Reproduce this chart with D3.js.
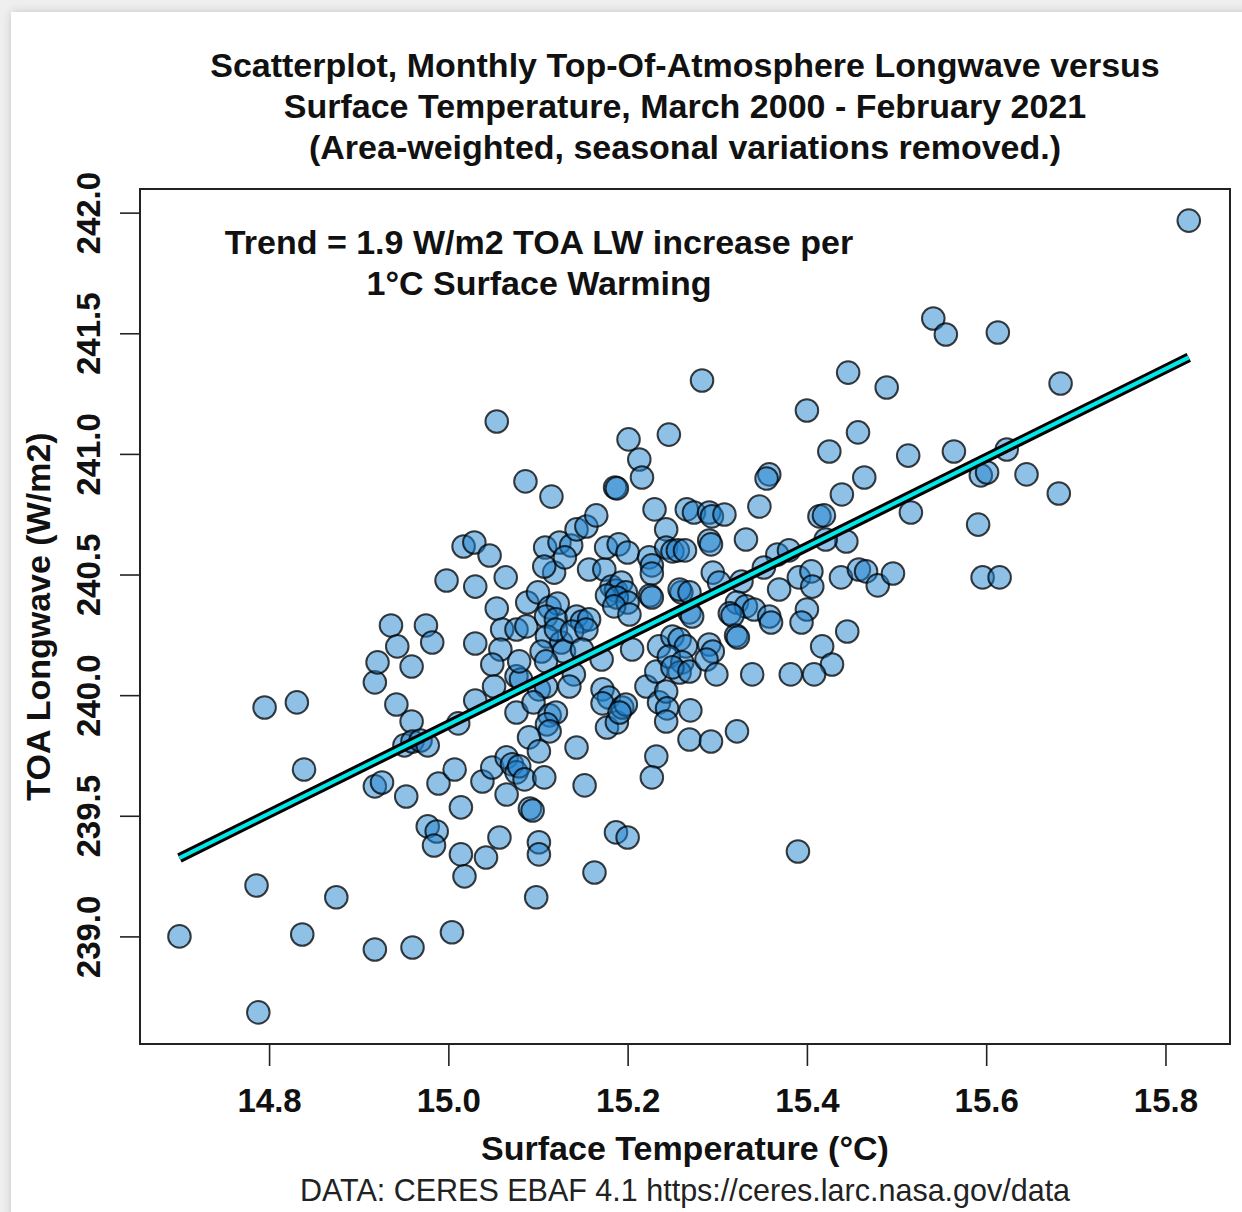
<!DOCTYPE html>
<html>
<head>
<meta charset="utf-8">
<script src="https://cdn.jsdelivr.net/npm/d3@7"></script>
<style>
  html, body { margin: 0; padding: 0; background: #efefef; }
  svg { display: block; }
</style>
</head>
<body>
<div id="chart"></div>
<script>
/* Scatterplot of monthly TOA longwave vs surface temperature (CERES EBAF 4.1),
   with the least-squares trend drawn as a black line with a cyan core. */

// ---- data ----
var temp = [
  14.700, 14.786, 14.788, 14.795, 14.831, 14.837, 14.839, 14.875, 14.918, 14.918,
  14.921, 14.936, 14.943, 14.942, 14.959, 14.959, 14.951, 14.960, 14.969, 14.977,
  14.918, 14.926, 14.953, 14.960, 14.975, 14.982, 14.977, 14.987, 14.984, 14.989,
  14.998, 15.004, 15.007, 15.011, 15.014, 15.014, 15.018, 15.017, 15.029, 15.030,
  15.030, 15.030, 15.046, 15.054, 15.054, 15.064, 15.060, 15.058, 15.049, 15.051,
  15.038, 15.049, 15.042, 15.057, 15.065, 15.065, 15.071, 15.076, 15.079, 15.076,
  15.076, 15.081, 15.079, 15.076, 15.086, 15.088, 15.087, 15.100, 15.108, 15.115,
  15.113, 15.122, 15.109, 15.120, 15.118, 15.107, 15.110, 15.126, 15.129, 15.104,
  15.109, 15.120, 15.101, 15.109, 15.095, 15.113, 15.120, 15.110, 15.113, 15.090,
  15.101, 15.085, 15.107, 15.091, 15.094, 15.101, 15.101, 15.098, 15.124, 15.137,
  15.130, 15.143, 15.154, 15.165, 15.157, 15.174, 15.143, 15.149, 15.157, 15.138,
  15.154, 15.149, 15.140, 15.135, 15.171, 15.172, 15.179, 15.172, 15.177, 15.188,
  15.194, 15.143, 15.152, 15.163, 15.187, 15.200, 15.176, 15.190, 15.200, 15.186,
  15.188, 15.201, 15.213, 15.216, 15.230, 15.243, 15.224, 15.227, 15.227, 15.182,
  15.187, 15.193, 15.198, 15.177, 15.188, 15.200, 15.185, 15.225, 15.227, 15.202,
  15.205, 15.198, 15.191, 15.221, 15.232, 15.232, 15.227, 15.235, 15.235, 15.246,
  15.283, 15.266, 15.274, 15.291, 15.294, 15.308, 15.243, 15.250, 15.256, 15.264,
  15.260, 15.269, 15.272, 15.250, 15.258, 15.265, 15.246, 15.261, 15.258, 15.250,
  15.269, 15.291, 15.295, 15.288, 15.299, 15.243, 15.244, 15.243, 15.270, 15.269,
  15.293, 15.322, 15.291, 15.293, 15.295, 15.302, 15.258, 15.269, 15.332, 15.347,
  15.358, 15.355, 15.367, 15.380, 15.352, 15.327, 15.369, 15.322, 15.332, 15.341,
  15.314, 15.317, 15.358, 15.360, 15.321, 15.323, 15.339, 15.382, 15.390, 15.400,
  15.446, 15.425, 15.457, 15.464, 15.439, 15.414, 15.419, 15.444, 15.421, 15.391,
  15.405, 15.406, 15.438, 15.458, 15.466, 15.400, 15.394, 15.445, 15.417, 15.428,
  15.408, 15.479, 15.496, 15.489, 15.513, 15.516, 15.541, 15.555, 15.564, 15.613,
  15.623, 15.594, 15.601, 15.645, 15.681, 15.683, 15.591, 15.596, 15.615, 15.826
];
var longwave = [
  239.000, 239.211, 238.685, 239.949, 239.970, 239.008, 239.692, 239.162, 238.946, 240.053,
  240.136, 240.289, 240.202, 239.961, 240.119, 239.891, 239.792, 239.808, 239.812, 239.792,
  239.622, 239.638, 239.580, 238.954, 240.289, 240.218, 239.456, 239.435, 239.377, 239.634,
  240.475, 239.017, 239.692, 239.883, 239.535, 239.340, 239.249, 240.616, 240.633, 240.450,
  240.214, 239.978, 240.579, 241.134, 240.359, 240.488, 240.272, 240.189, 240.127, 240.036,
  239.642, 239.700, 239.327, 239.410, 239.588, 239.742, 239.713, 239.680, 239.705, 240.272,
  240.078, 240.065, 240.140, 239.928, 240.886, 240.384, 240.285, 240.426, 240.612, 240.823,
  240.363, 240.380, 240.326, 240.314, 240.508, 240.533, 240.243, 240.218, 240.181, 240.181,
  240.140, 240.272, 240.024, 240.036, 239.970, 239.916, 239.928, 239.879, 239.850, 239.825,
  239.767, 239.651, 239.659, 239.530, 239.522, 239.390, 239.340, 239.162, 240.633, 240.620,
  240.571, 240.687, 240.699, 240.745, 240.521, 240.521, 240.326, 240.305, 240.314, 240.264,
  240.272, 240.189, 240.086, 240.036, 240.148, 240.024, 239.990, 239.966, 239.866, 239.887,
  239.949, 239.783, 239.626, 239.265, 239.431, 239.410, 240.612, 240.625, 240.591, 240.861,
  240.857, 241.060, 240.977, 240.902, 240.770, 240.687, 240.571, 240.538, 240.504, 240.450,
  240.434, 240.467, 240.426, 240.413, 240.405, 240.384, 240.368, 240.413, 240.405, 240.334,
  240.189, 239.961, 239.928, 240.036, 240.098, 239.746, 239.659, 240.202, 239.970, 241.080,
  241.304, 240.770, 240.757, 240.757, 240.741, 240.749, 240.612, 240.596, 240.600, 240.600,
  240.426, 240.343, 240.326, 240.243, 240.231, 240.202, 240.160, 240.136, 240.094, 240.115,
  240.098, 240.210, 240.181, 240.148, 240.086, 240.015, 239.945, 239.891, 239.937, 239.816,
  239.808, 239.850, 240.641, 240.625, 240.508, 240.467, 240.438, 240.426, 240.645, 240.782,
  240.915, 240.898, 240.583, 240.600, 240.529, 240.471, 240.438, 240.384, 240.368, 240.355,
  240.339, 240.330, 240.326, 240.301, 240.247, 240.239, 240.086, 240.086, 239.352, 241.180,
  241.337, 241.010, 241.089, 240.902, 240.832, 240.741, 240.745, 240.637, 240.645, 240.488,
  240.513, 240.450, 240.488, 240.521, 240.513, 240.355, 240.301, 240.264, 240.202, 240.127,
  240.086, 240.455, 240.504, 241.275, 240.993, 240.757, 241.561, 241.495, 241.010, 241.503,
  241.018, 240.911, 240.923, 240.915, 240.836, 241.292, 240.707, 240.488, 240.488, 241.967
];

// trend line end points (temperature, longwave)
var trendT = [14.700, 15.826];
var trendLW = [239.325, 241.40];

var xTicks = [14.8, 15.0, 15.2, 15.4, 15.6, 15.8];
var yTicks = [239.0, 239.5, 240.0, 240.5, 241.0, 241.5, 242.0];

var titleLines = [
  "Scatterplot, Monthly Top-Of-Atmosphere Longwave versus",
  "Surface Temperature, March 2000 - February 2021",
  "(Area-weighted, seasonal variations removed.)"
];
var noteLines = ["Trend = 1.9 W/m2 TOA LW increase per", "1°C Surface Warming"];
var xTitle = "Surface Temperature (°C)";
var yTitle = "TOA Longwave (W/m2)";
var caption = "DATA: CERES EBAF 4.1 https://ceres.larc.nasa.gov/data";

(function () {
  "use strict";
  var W = 1242, H = 1212;
  var box = { left: 140, right: 1230, top: 189, bottom: 1044 };
  var font = "'Liberation Sans', Arial, Helvetica, sans-serif";

  var svg = d3.select("#chart").append("svg").attr("width", W).attr("height", H);

  // page card with a soft edge, like the screenshot
  var defs = svg.append("defs");
  var f = defs.append("filter").attr("id", "shadow").attr("x", "-5%").attr("y", "-5%")
    .attr("width", "110%").attr("height", "110%");
  f.append("feDropShadow").attr("dx", 0).attr("dy", 0).attr("stdDeviation", 4)
    .attr("flood-color", "#000").attr("flood-opacity", 0.18);
  svg.append("rect").attr("width", W).attr("height", H).attr("fill", "#efefef");
  svg.append("rect").attr("x", 11).attr("y", 12).attr("width", W).attr("height", H)
    .attr("fill", "#fff").attr("filter", "url(#shadow)");

  var x = d3.scaleLinear().domain([14.656, 15.872]).range([box.left, box.right]);
  var y = d3.scaleLinear().domain([238.554, 242.098]).range([box.bottom, box.top]);

  // ---- title ----
  svg.append("g").selectAll("text").data(titleLines).enter().append("text")
    .attr("x", (box.left + box.right) / 2).attr("y", function (d, i) { return 77 + i * 41; })
    .attr("text-anchor", "middle").attr("font-family", font).attr("font-weight", 700)
    .attr("font-size", 34).attr("fill", "#111").text(function (d) { return d; });

  // ---- axes ----
  var xa = svg.append("g").attr("transform", "translate(0," + box.bottom + ")")
    .call(d3.axisBottom(x).tickValues(xTicks).tickFormat(d3.format(".1f")).tickSize(22).tickPadding(20));
  var ya = svg.append("g").attr("transform", "translate(" + box.left + ",0)")
    .call(d3.axisLeft(y).tickValues(yTicks).tickFormat(d3.format(".1f")).tickSize(20));
  [xa, ya].forEach(function (a) {
    a.select(".domain").remove();
    a.selectAll("line").attr("stroke", "#222").attr("stroke-width", 1.6);
    a.selectAll("text").attr("font-family", font).attr("font-weight", 700)
      .attr("font-size", 33).attr("fill", "#111");
  });
  xa.selectAll("text").attr("dy", null).attr("y", 68);
  ya.selectAll("text").attr("x", null).attr("dy", null).attr("text-anchor", "middle")
    .attr("transform", "translate(-40,0) rotate(-90)").attr("y", 0);

  svg.append("text").attr("x", (box.left + box.right) / 2).attr("y", 1160)
    .attr("text-anchor", "middle").attr("font-family", font).attr("font-weight", 700)
    .attr("font-size", 34).attr("fill", "#111").text(xTitle);
  svg.append("text").attr("transform", "translate(50," + (box.top + box.bottom) / 2 + ") rotate(-90)")
    .attr("text-anchor", "middle").attr("font-family", font).attr("font-weight", 700)
    .attr("font-size", 34).attr("fill", "#111").text(yTitle);
  svg.append("text").attr("x", (box.left + box.right) / 2).attr("y", 1201)
    .attr("text-anchor", "middle").attr("font-family", font)
    .attr("font-size", 30.5).attr("fill", "#222").text(caption);

  // ---- points ----
  var pts = temp.map(function (t, i) { return { t: t, lw: longwave[i] }; });
  svg.append("g").selectAll("circle").data(pts).enter().append("circle")
    .attr("cx", function (d) { return x(d.t); })
    .attr("cy", function (d) { return y(d.lw); })
    .attr("r", 11.3)
    .attr("fill", "rgb(32,130,205)").attr("fill-opacity", 0.5)
    .attr("stroke", "#000").attr("stroke-opacity", 0.75).attr("stroke-width", 2);

  // ---- trend: black casing, cyan core ----
  var trend = trendT.map(function (t, i) { return [x(t), y(trendLW[i])]; });
  var line = d3.line();
  svg.append("path").attr("d", line(trend)).attr("stroke", "#000").attr("stroke-width", 10).attr("fill", "none");
  svg.append("path").attr("d", line(trend)).attr("stroke", "#00e8e8").attr("stroke-width", 4).attr("fill", "none");

  // ---- annotation ----
  svg.append("g").selectAll("text").data(noteLines).enter().append("text")
    .attr("x", 539).attr("y", function (d, i) { return 254 + i * 41; })
    .attr("text-anchor", "middle").attr("font-family", font).attr("font-weight", 700)
    .attr("font-size", 34).attr("fill", "#111").text(function (d) { return d; });

  // plot frame
  svg.append("rect").attr("x", box.left).attr("y", box.top)
    .attr("width", box.right - box.left).attr("height", box.bottom - box.top)
    .attr("fill", "none").attr("stroke", "#222").attr("stroke-width", 2);
})();
</script>
</body>
</html>
